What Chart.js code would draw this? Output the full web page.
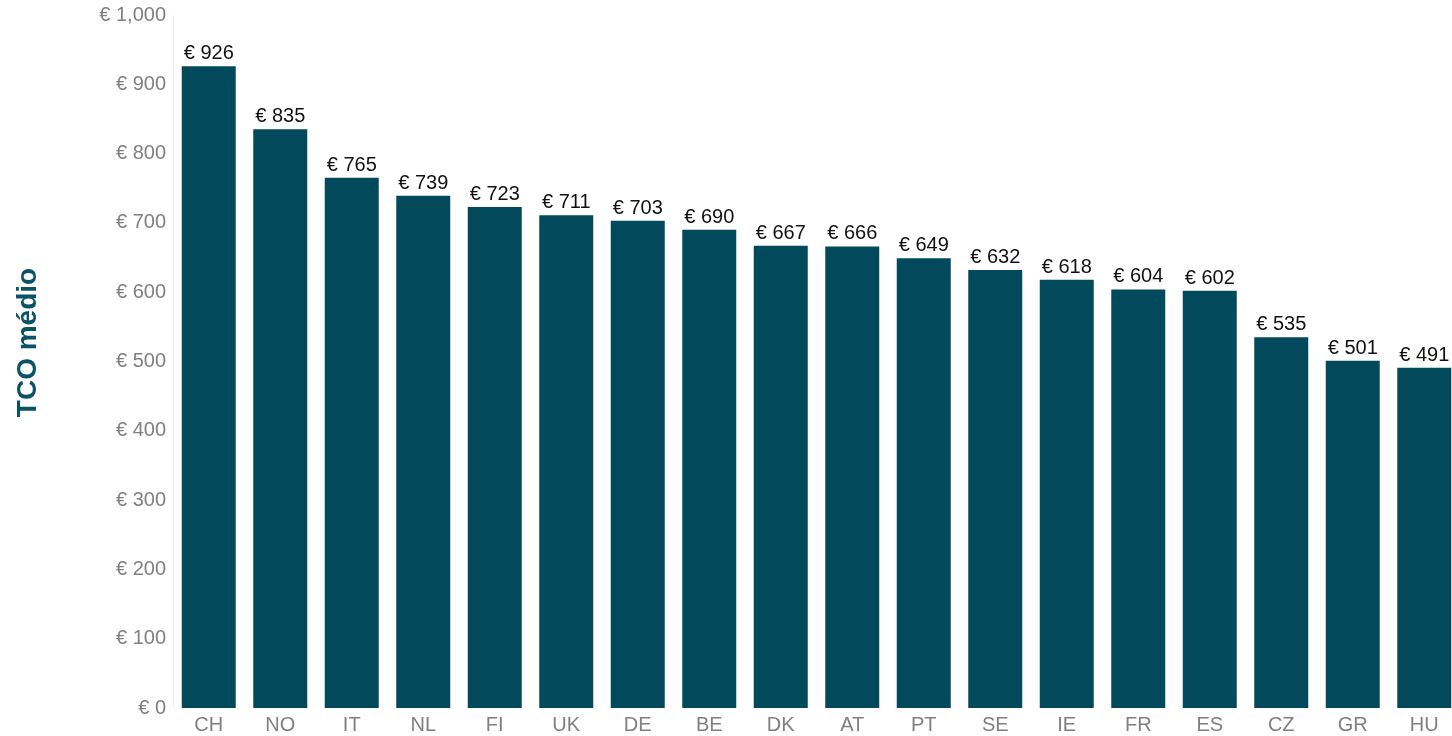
<!DOCTYPE html>
<html>
<head>
<meta charset="utf-8">
<script src="https://cdn.jsdelivr.net/npm/chart.js@4/dist/chart.umd.min.js"></script>
<style>
  html, body { margin: 0; padding: 0; background: #ffffff; overflow: hidden; width: 1452px; height: 736px; }
  #wrap { position: absolute; left: 0; top: 0; width: 1470px; height: 736px; }
</style>
</head>
<body>
<div id="wrap"><canvas id="c"></canvas></div>
<script>
const categories = ['CH','NO','IT','NL','FI','UK','DE','BE','DK','AT','PT','SE','IE','FR','ES','CZ','GR','HU'];
const tcoValues = [926, 835, 765, 739, 723, 711, 703, 690, 667, 666, 649, 632, 618, 604, 602, 535, 501, 491];
const yTickStep = 100;
const yMax = 1000;
const yTitle = 'TCO médio';

const FONT = '"Liberation Sans", Arial, sans-serif';
const BAR = '#02495c';

const fmt = v => '€ ' + v.toLocaleString('en-US');

const valueLabels = {
  id: 'valueLabels',
  afterDatasetsDraw(chart) {
    const ctx = chart.ctx;
    const meta = chart.getDatasetMeta(0);
    ctx.save();
    ctx.font = '20px ' + FONT;
    ctx.fillStyle = '#111111';
    ctx.textAlign = 'center';
    ctx.textBaseline = 'alphabetic';
    meta.data.forEach((bar, i) => {
      ctx.fillText(fmt(tcoValues[i]), bar.x, bar.y - 7);
    });
    ctx.restore();
  }
};

const axisTitle = {
  id: 'axisTitle',
  afterDraw(chart) {
    const ctx = chart.ctx;
    const a = chart.chartArea;
    ctx.save();
    ctx.translate(28, (a.top + a.bottom) / 2 - 19);
    ctx.rotate(-Math.PI / 2);
    ctx.font = 'bold 28px ' + FONT;
    ctx.fillStyle = '#0b5266';
    ctx.textAlign = 'center';
    ctx.textBaseline = 'middle';
    ctx.fillText(yTitle, 0, 0);
    ctx.restore();
  }
};

new Chart(document.getElementById('c'), {
  type: 'bar',
  data: {
    labels: categories,
    datasets: [{
      data: tcoValues,
      backgroundColor: BAR,
      borderWidth: 0,
      barPercentage: 0.755,
      categoryPercentage: 1.0
    }]
  },
  options: {
    responsive: true,
    maintainAspectRatio: false,
    animation: false,
    layout: { padding: { top: 15, right: 10, bottom: 0, left: 0 } },
    plugins: {
      legend: { display: false },
      tooltip: { enabled: false }
    },
    scales: {
      x: {
        grid: { display: false, drawTicks: false },
        border: { display: false },
        ticks: { color: '#808080', font: { family: FONT, size: 20 }, padding: 5, maxRotation: 0, autoSkip: false },
        afterFit(s) { s.height = 28; }
      },
      y: {
        min: 0,
        max: yMax,
        grid: { display: false, drawTicks: false },
        border: { display: true, color: '#efefef', width: 1 },
        ticks: { stepSize: yTickStep, color: '#808080', font: { family: FONT, size: 20, lineHeight: 0.8 }, padding: 7, callback: v => fmt(v) },
        afterFit(s) { s.width = 173; s.paddingTop = 0; s.paddingBottom = 0; }
      }
    }
  },
  plugins: [valueLabels, axisTitle]
});
</script>
</body>
</html>
